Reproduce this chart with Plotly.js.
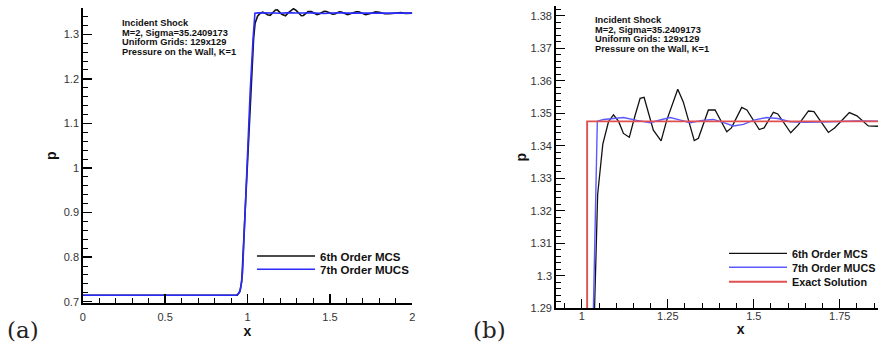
<!DOCTYPE html>
<html>
<head>
<meta charset="utf-8">
<script src="https://cdn.plot.ly/plotly-3.0.1.min.js"></script>
<style>
  html, body { margin: 0; padding: 0; overflow: hidden; background: #fff; }
  #chart { width: 940px; height: 347px; }
</style>
</head>
<body>
<div id="chart"></div>
<script>
// ---- data ----
const seriesNames = ["6th Order MCS", "7th Order MUCS", "Exact Solution"];

const mcsX = [0, 0.9375, 0.953, 0.965, 0.984, 1.0, 1.016, 1.031, 1.037, 1.046, 1.061, 1.0775, 1.092, 1.107,
  1.121, 1.138, 1.154, 1.1695, 1.181, 1.208, 1.2305, 1.247, 1.279, 1.295, 1.327, 1.339, 1.368, 1.3875,
  1.4215, 1.435, 1.465, 1.48, 1.516, 1.53, 1.557, 1.57, 1.6075, 1.63, 1.659, 1.675, 1.717, 1.735, 1.778,
  1.80, 1.833, 1.86, 1.89, 1.93, 1.96, 2.0];
const mcsP = [0.7143, 0.7143, 0.722, 0.745, 0.89, 1.02, 1.15, 1.26, 1.29, 1.325, 1.3405, 1.3474, 1.3495, 1.3475,
  1.3438, 1.3426, 1.349, 1.3546, 1.3549, 1.3448, 1.3415, 1.3479, 1.3574, 1.3535, 1.3416, 1.3423, 1.351, 1.351,
  1.3443, 1.3455, 1.3518, 1.351, 1.345, 1.3455, 1.3503, 1.3498, 1.344, 1.3465, 1.3507, 1.3505, 1.3441, 1.3455, 1.3502,
  1.3492, 1.3461, 1.346, 1.3475, 1.3485, 1.347, 1.3475];

const mucsX = [0, 0.93, 0.945, 0.9575, 0.97, 0.985, 1.0, 1.016, 1.0337, 1.045, 1.063, 1.09, 1.121, 1.16, 1.199,
  1.23, 1.257, 1.29, 1.315, 1.35, 1.3825, 1.41, 1.441, 1.47, 1.5, 1.5375, 1.57, 1.6055, 1.65, 1.72, 1.8, 2.0];
const mucsP = [0.7143, 0.7143, 0.718, 0.728, 0.765, 0.9, 1.03, 1.17, 1.29, 1.3475, 1.3481, 1.3483, 1.3487, 1.3478, 1.3471,
  1.348, 1.3487, 1.3478, 1.3471, 1.3478, 1.3481, 1.3472, 1.3461, 1.3466, 1.3479, 1.3487, 1.3484, 1.3474, 1.3472, 1.3474, 1.3476, 1.3475];

const exactX = [0.9, 1.0154, 1.0154, 2.0];
const exactP = [0.7143, 0.7143, 1.3475, 1.3475];

const xTicksA = [0, 0.5, 1, 1.5, 2];
const xTicksB = [1, 1.25, 1.5, 1.75];
const infoLines = ["Incident Shock", "M=2, Sigma=35.2409173", "Uniform Grids: 129x129", "Pressure on the Wall, K=1"];
const panelLabels = ["(a)", "(b)"];
const xTitle = "x";
const yTitle = "p";

// ---- figure ----
const W = 940, H = 347;
const px = v => v / W;
const py = v => 1 - v / H;

const FAM = "Liberation Sans, Arial, sans-serif";
const tickFont = { family: FAM, size: 11, color: "#333" };
const titleFont = { family: FAM, size: 14, color: "#111", weight: "bold" };
const legendFontA = { family: FAM, size: 11.5, color: "#111", weight: "bold" };
const legendFontB = { family: FAM, size: 10.8, color: "#111", weight: "bold" };
const infoFont = { family: FAM, size: 9.3, color: "#111", weight: "bold" };

const traces = [
  { x: mcsX, y: mcsP, xaxis: "x", yaxis: "y", mode: "lines", name: seriesNames[0], legend: "legend",
    line: { color: "#111", width: 1.6 } },
  { x: mucsX, y: mucsP, xaxis: "x", yaxis: "y", mode: "lines", name: seriesNames[1], legend: "legend2",
    line: { color: "#2b2bff", width: 1.6 } },
  { x: mcsX, y: mcsP, xaxis: "x2", yaxis: "y2", mode: "lines", name: seriesNames[0], legend: "legend3",
    line: { color: "#111", width: 1.3 } },
  { x: mucsX, y: mucsP, xaxis: "x2", yaxis: "y2", mode: "lines", name: seriesNames[1], legend: "legend4",
    line: { color: "#5a5aff", width: 1.4 } },
  { x: exactX, y: exactP, xaxis: "x2", yaxis: "y2", mode: "lines", name: seriesNames[2], legend: "legend5",
    line: { color: "#e05050", width: 1.9 } }
];

function axisCommon() {
  return {
    showgrid: false, zeroline: false, showline: true, linecolor: "#000", linewidth: 1.5,
    ticks: "inside", ticklen: 9, tickwidth: 1.3, tickcolor: "#000",
    tickfont: tickFont, mirror: false, automargin: false, fixedrange: true
  };
}
function minor(d) {
  return { ticks: "inside", ticklen: 5, tickwidth: 1, tickcolor: "#000", dtick: d, showgrid: false };
}

const annotations = [];
infoLines.forEach((t, i) => {
  annotations.push({ xref: "paper", yref: "paper", x: px(119.7), y: py(23.3 + i * 9.5), xanchor: "left", yanchor: "middle",
    text: t, showarrow: false, font: infoFont });
  annotations.push({ xref: "paper", yref: "paper", x: px(593), y: py(20.3 + i * 9.57), xanchor: "left", yanchor: "middle",
    text: t, showarrow: false, font: infoFont });
});
annotations.push({ xref: "paper", yref: "paper", x: px(23), y: py(330), xanchor: "center", yanchor: "middle",
  text: panelLabels[0], showarrow: false, font: { family: "DejaVu Serif, serif", size: 23, color: "#222" } });
annotations.push({ xref: "paper", yref: "paper", x: px(489), y: py(330), xanchor: "center", yanchor: "middle",
  text: panelLabels[1], showarrow: false, font: { family: "DejaVu Serif, serif", size: 23, color: "#222" } });

function leg(xLine, yRow, font) {
  return { x: px(xLine - 5), y: py(yRow), xanchor: "left", yanchor: "middle", bgcolor: "rgba(0,0,0,0)",
    borderwidth: 0, font: font, itemwidth: 58 };
}

const layout = {
  width: W, height: H,
  margin: { l: 0, r: 0, t: 0, b: 0 },
  paper_bgcolor: "#fff", plot_bgcolor: "#fff",
  showlegend: true,
  xaxis: Object.assign(axisCommon(), {
    domain: [px(82.7), px(412.3)], range: [0, 2], tickmode: "array", tickvals: xTicksA,
    minor: minor(0.1), ticklabelstandoff: 3,
    anchor: "y", title: { text: xTitle, font: titleFont, standoff: 4 }
  }),
  yaxis: Object.assign(axisCommon(), {
    domain: [1 - 303.3 / H, 1 - 8 / H], range: [0.6964, 1.359], tick0: 0.7, dtick: 0.1,
    minor: minor(0.02),
    anchor: "x", title: { text: yTitle, font: titleFont, standoff: 4 }
  }),
  xaxis2: Object.assign(axisCommon(), {
    domain: [px(555.7), px(925.7)], range: [0.924, 2.0], tickmode: "array", tickvals: xTicksB,
    minor: minor(0.05), ticklabelstandoff: -3,
    anchor: "y2", title: { text: xTitle, font: titleFont, standoff: 3 }
  }),
  yaxis2: Object.assign(axisCommon(), {
    domain: [1 - 308.3 / H, 1 - 6 / H], range: [1.29, 1.383], tick0: 1.29, dtick: 0.01,
    minor: minor(0.002),
    anchor: "x2", title: { text: yTitle, font: titleFont, standoff: 0 }
  }),
  legend: leg(257, 256, legendFontA),
  legend2: leg(257, 269.3, legendFontA),
  legend3: leg(729, 253.3, legendFontB),
  legend4: leg(729, 267.3, legendFontB),
  legend5: leg(729, 281.7, legendFontB),
  annotations: annotations
};

Plotly.newPlot("chart", traces, layout, { displayModeBar: false, staticPlot: true });
</script>
</body>
</html>
